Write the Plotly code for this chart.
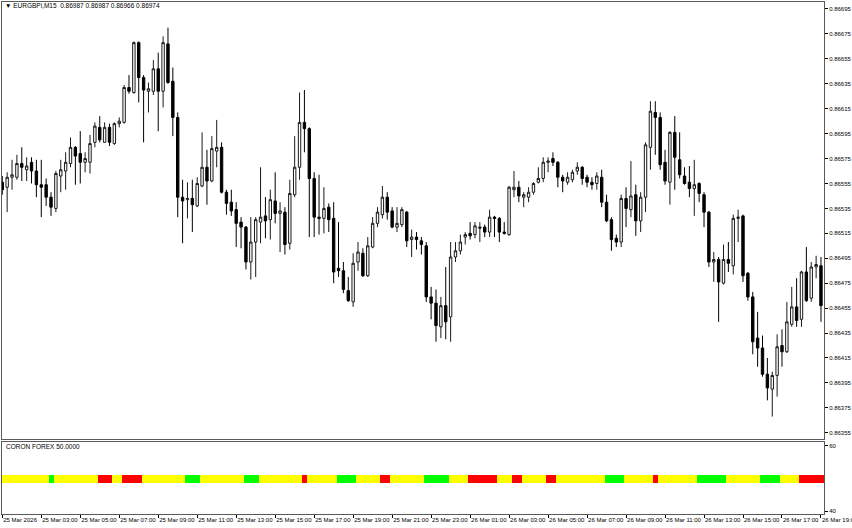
import plotly.graph_objects as go

# ---------------- data (EURGBPi, M15, 25 Mar 2026 01:00 -> 26 Mar 2026 19:00) ----------------
opens = [
    0.86556, 0.86552, 0.86560, 0.86560, 0.86571, 0.86566, 0.86572, 0.86565, 0.86554, 0.86554,
    0.86544, 0.86535, 0.86561, 0.86565, 0.86571, 0.86584, 0.86579, 0.86572, 0.86572, 0.86588,
    0.86600, 0.86588, 0.86600, 0.86587, 0.86603, 0.86604, 0.86632, 0.86628, 0.86668, 0.86640,
    0.86629, 0.86629, 0.86647, 0.86629, 0.86667, 0.86637, 0.86608, 0.86544, 0.86542, 0.86543,
    0.86537, 0.86553, 0.86568, 0.86557, 0.86581, 0.86584, 0.86548, 0.86540, 0.86534, 0.86524,
    0.86520, 0.86492, 0.86508, 0.86524, 0.86529, 0.86526, 0.86541, 0.86531, 0.86532, 0.86507,
    0.86546, 0.86568, 0.86604, 0.86599, 0.86559, 0.86528, 0.86527, 0.86536, 0.86527, 0.86487,
    0.86485, 0.86469, 0.86460, 0.86492, 0.86499, 0.86481, 0.86504, 0.86523, 0.86530, 0.86544,
    0.86533, 0.86520, 0.86522, 0.86532, 0.86510, 0.86512, 0.86509, 0.86505, 0.86464, 0.86459,
    0.86440, 0.86457, 0.86448, 0.86496, 0.86501, 0.86512, 0.86515, 0.86514, 0.86519, 0.86520,
    0.86516, 0.86528, 0.86527, 0.86516, 0.86514, 0.86550, 0.86552, 0.86544, 0.86544, 0.86548,
    0.86556, 0.86559, 0.86572, 0.86575, 0.86572, 0.86560, 0.86556, 0.86558, 0.86565, 0.86568,
    0.86560, 0.86556, 0.86555, 0.86560, 0.86540, 0.86526, 0.86511, 0.86508, 0.86543, 0.86534,
    0.86546, 0.86525, 0.86544, 0.86584, 0.86612, 0.86608, 0.86572, 0.86556, 0.86596, 0.86574,
    0.86561, 0.86556, 0.86551, 0.86555, 0.86546, 0.86532, 0.86492, 0.86494, 0.86475, 0.86494,
    0.86489, 0.86527, 0.86529, 0.86483, 0.86464, 0.86431, 0.86423, 0.86402, 0.86390, 0.86401,
    0.86425, 0.86420, 0.86442, 0.86456, 0.86446, 0.86484, 0.86463, 0.86488, 0.86489,
]
highs = [
    0.86561, 0.86564, 0.86574, 0.86578, 0.86584, 0.86576, 0.86576, 0.86574, 0.86574, 0.86559,
    0.86548, 0.86565, 0.86574, 0.86580, 0.86592, 0.86585, 0.86597, 0.86580, 0.86594, 0.86604,
    0.86609, 0.86604, 0.86603, 0.86604, 0.86608, 0.86634, 0.86642, 0.86669, 0.86669, 0.86642,
    0.86636, 0.86654, 0.86660, 0.86673, 0.86680, 0.86648, 0.86612, 0.86558, 0.86556, 0.86558,
    0.86560, 0.86596, 0.86582, 0.86593, 0.86606, 0.86588, 0.86550, 0.86550, 0.86540, 0.86528,
    0.86521, 0.86528, 0.86528, 0.86568, 0.86544, 0.86550, 0.86564, 0.86540, 0.86536, 0.86558,
    0.86593, 0.86628, 0.86630, 0.86600, 0.86564, 0.86562, 0.86552, 0.86539, 0.86540, 0.86524,
    0.86492, 0.86480, 0.86499, 0.86508, 0.86503, 0.86512, 0.86528, 0.86536, 0.86553, 0.86548,
    0.86536, 0.86536, 0.86536, 0.86533, 0.86518, 0.86516, 0.86512, 0.86508, 0.86472, 0.86470,
    0.86464, 0.86488, 0.86508, 0.86508, 0.86514, 0.86516, 0.86524, 0.86524, 0.86524, 0.86522,
    0.86534, 0.86529, 0.86528, 0.86524, 0.86553, 0.86565, 0.86557, 0.86548, 0.86552, 0.86556,
    0.86568, 0.86576, 0.86576, 0.86580, 0.86573, 0.86562, 0.86564, 0.86566, 0.86572, 0.86569,
    0.86562, 0.86560, 0.86564, 0.86566, 0.86546, 0.86528, 0.86514, 0.86546, 0.86552, 0.86573,
    0.86554, 0.86548, 0.86588, 0.86621, 0.86621, 0.86612, 0.86582, 0.86597, 0.86609, 0.86596,
    0.86568, 0.86569, 0.86574, 0.86556, 0.86548, 0.86533, 0.86500, 0.86496, 0.86506, 0.86508,
    0.86530, 0.86534, 0.86530, 0.86484, 0.86468, 0.86452, 0.86433, 0.86415, 0.86404, 0.86434,
    0.86438, 0.86460, 0.86472, 0.86479, 0.86485, 0.86504, 0.86492, 0.86497, 0.86496,
]
lows = [
    0.86546, 0.86532, 0.86550, 0.86558, 0.86557, 0.86557, 0.86555, 0.86544, 0.86528, 0.86537,
    0.86529, 0.86532, 0.86548, 0.86550, 0.86568, 0.86554, 0.86555, 0.86564, 0.86563, 0.86584,
    0.86588, 0.86588, 0.86585, 0.86586, 0.86600, 0.86603, 0.86627, 0.86627, 0.86620, 0.86588,
    0.86612, 0.86626, 0.86597, 0.86616, 0.86635, 0.86593, 0.86528, 0.86507, 0.86527, 0.86516,
    0.86536, 0.86552, 0.86538, 0.86556, 0.86568, 0.86547, 0.86530, 0.86529, 0.86504, 0.86503,
    0.86486, 0.86478, 0.86480, 0.86507, 0.86511, 0.86510, 0.86523, 0.86500, 0.86498, 0.86502,
    0.86544, 0.86558, 0.86580, 0.86512, 0.86512, 0.86514, 0.86515, 0.86516, 0.86475, 0.86480,
    0.86467, 0.86460, 0.86456, 0.86485, 0.86480, 0.86480, 0.86503, 0.86520, 0.86527, 0.86526,
    0.86519, 0.86516, 0.86520, 0.86504, 0.86496, 0.86502, 0.86498, 0.86460, 0.86446, 0.86428,
    0.86431, 0.86430, 0.86428, 0.86492, 0.86498, 0.86506, 0.86510, 0.86511, 0.86508, 0.86512,
    0.86512, 0.86512, 0.86508, 0.86514, 0.86513, 0.86544, 0.86540, 0.86536, 0.86540, 0.86546,
    0.86555, 0.86556, 0.86564, 0.86569, 0.86552, 0.86548, 0.86554, 0.86556, 0.86562, 0.86554,
    0.86552, 0.86550, 0.86550, 0.86536, 0.86524, 0.86501, 0.86504, 0.86504, 0.86520, 0.86528,
    0.86513, 0.86516, 0.86532, 0.86566, 0.86578, 0.86566, 0.86554, 0.86538, 0.86550, 0.86559,
    0.86554, 0.86544, 0.86529, 0.86540, 0.86520, 0.86488, 0.86476, 0.86444, 0.86474, 0.86484,
    0.86482, 0.86508, 0.86476, 0.86461, 0.86418, 0.86408, 0.86400, 0.86381, 0.86368, 0.86384,
    0.86408, 0.86419, 0.86440, 0.86440, 0.86440, 0.86460, 0.86460, 0.86479, 0.86444,
]
closes = [
    0.86550, 0.86560, 0.86562, 0.86571, 0.86568, 0.86569, 0.86565, 0.86554, 0.86552, 0.86544,
    0.86536, 0.86563, 0.86566, 0.86572, 0.86584, 0.86577, 0.86572, 0.86575, 0.86587, 0.86601,
    0.86590, 0.86600, 0.86588, 0.86603, 0.86605, 0.86632, 0.86629, 0.86668, 0.86640, 0.86630,
    0.86631, 0.86647, 0.86629, 0.86668, 0.86636, 0.86608, 0.86544, 0.86541, 0.86543, 0.86538,
    0.86555, 0.86568, 0.86557, 0.86583, 0.86584, 0.86548, 0.86539, 0.86533, 0.86523, 0.86520,
    0.86492, 0.86508, 0.86526, 0.86528, 0.86525, 0.86542, 0.86531, 0.86533, 0.86506, 0.86547,
    0.86568, 0.86604, 0.86599, 0.86559, 0.86528, 0.86527, 0.86535, 0.86526, 0.86484, 0.86485,
    0.86470, 0.86461, 0.86491, 0.86500, 0.86481, 0.86505, 0.86523, 0.86532, 0.86544, 0.86532,
    0.86520, 0.86523, 0.86534, 0.86509, 0.86512, 0.86510, 0.86506, 0.86464, 0.86459, 0.86441,
    0.86457, 0.86444, 0.86496, 0.86501, 0.86508, 0.86514, 0.86513, 0.86521, 0.86520, 0.86516,
    0.86528, 0.86527, 0.86516, 0.86515, 0.86552, 0.86552, 0.86545, 0.86546, 0.86548, 0.86555,
    0.86559, 0.86572, 0.86573, 0.86572, 0.86560, 0.86557, 0.86560, 0.86564, 0.86568, 0.86559,
    0.86556, 0.86554, 0.86561, 0.86540, 0.86525, 0.86510, 0.86508, 0.86543, 0.86535, 0.86545,
    0.86525, 0.86544, 0.86586, 0.86613, 0.86608, 0.86570, 0.86557, 0.86596, 0.86576, 0.86562,
    0.86555, 0.86551, 0.86554, 0.86547, 0.86532, 0.86492, 0.86494, 0.86476, 0.86494, 0.86491,
    0.86527, 0.86528, 0.86481, 0.86464, 0.86428, 0.86423, 0.86402, 0.86391, 0.86401, 0.86424,
    0.86420, 0.86444, 0.86456, 0.86445, 0.86484, 0.86461, 0.86488, 0.86490, 0.86457,
]

# CORON FOREX indicator: constant level 50 coloured by signal state per bar
coron_values = [50.0] * len(closes)
coron_state = (
    "YYYYYYYYYY" "G" "YYYYYYYYY" "RRR" "YY" "RRRR" "YYYYYYYYY" "GGG" "YYYYYYYYY" "GGG"
    "YYYYYYYYY" "R" "YYYYYY" "GGGG" "YYYYY" "RR" "YYYYYYY" "GGGGG" "YYYY" "RRRRRR"
    "YYY" "RR" "YYYYY" "RR" "YYYYYYYYYY" "GGGG" "YYYYYY" "R" "YYYYYYYY" "GGGGGG"
    "YYYYYYY" "GGGG" "YYYY" "RRRRR"
)
state_colour = {"Y": "#FFFF00", "G": "#00FF00", "R": "#FF0000"}

x_tick_labels = [
    "25 Mar 2026", "25 Mar 03:00", "25 Mar 05:00", "25 Mar 07:00", "25 Mar 09:00",
    "25 Mar 11:00", "25 Mar 13:00", "25 Mar 15:00", "25 Mar 17:00", "25 Mar 19:00",
    "25 Mar 21:00", "25 Mar 23:00", "26 Mar 01:00", "26 Mar 03:00", "26 Mar 05:00",
    "26 Mar 07:00", "26 Mar 09:00", "26 Mar 11:00", "26 Mar 13:00", "26 Mar 15:00",
    "26 Mar 17:00", "26 Mar 19:00",
]
bars_per_label = 8  # M15 bars per 2 hours
price_ticks = [0.86355, 0.86375, 0.86395, 0.86415, 0.86435, 0.86455, 0.86475, 0.86495, 0.86515,
               0.86535, 0.86555, 0.86575, 0.86595, 0.86615, 0.86635, 0.86655, 0.86675, 0.86695]

# ---------------- figure ----------------
n = len(closes)
bar_index = list(range(n))
W, H = 852, 528
FONT = "Liberation Sans"
frame = "#5a5a5a"

fig = go.Figure()
fig.add_trace(go.Candlestick(
    x=bar_index, open=opens, high=highs, low=lows, close=closes,
    xaxis="x", yaxis="y",
    increasing=dict(line=dict(color="#1a1a1a", width=1), fillcolor="#ffffff"),
    decreasing=dict(line=dict(color="#000000", width=1), fillcolor="#000000"),
    whiskerwidth=0, showlegend=False, hoverinfo="skip",
))
fig.add_trace(go.Bar(
    x=bar_index, y=[2.4] * n, base=[v - 1.2 for v in coron_values],
    marker=dict(color=[state_colour[s] for s in coron_state], line=dict(width=0)),
    width=1.04, xaxis="x2", yaxis="y2", showlegend=False, hoverinfo="skip",
))

xdom = [1.5 / W, 824 / W]
xrange = [-0.16, n - 1 + 0.62]
common_x = dict(domain=xdom, range=xrange, showgrid=False, zeroline=False,
                showline=True, mirror=True, linecolor=frame, linewidth=1)

fig.update_layout(
    width=W, height=H, margin=dict(l=0, r=0, t=0, b=0, autoexpand=False),
    paper_bgcolor="white", plot_bgcolor="white",
    font=dict(family=FONT, size=6, color="#000000"),
    boxgap=0.3,
    xaxis=dict(**common_x, anchor="y", showticklabels=False, ticks="",
               rangeslider=dict(visible=False)),
    yaxis=dict(domain=[1 - 439 / H, 1 - 1.5 / H], range=[0.86350, 0.86701], side="right",
               tickvals=price_ticks, ticktext=[f"{v:.5f}" for v in price_ticks],
               ticks="outside", ticklen=3, tickcolor="#000", showgrid=False, zeroline=False,
               showline=True, mirror=True, linecolor=frame, linewidth=1,
               tickfont=dict(size=6), anchor="x", automargin=False,
               ticklabeloverflow="allow"),
    xaxis2=dict(**common_x, anchor="y2",
                tickvals=bar_index[::bars_per_label], ticktext=x_tick_labels,
                ticks="outside", ticklen=3, tickcolor="#000", tickangle=0,
                ticklabelposition="outside right", ticklabeloverflow="allow",
                tickfont=dict(size=6), automargin=False),
    yaxis2=dict(domain=[1 - 514 / H, 1 - 441.5 / H], range=[39.1, 61.2], side="right",
                tickvals=[40, 60], ticktext=["40", "60"], ticks="outside", ticklen=3,
                tickcolor="#000", showgrid=False, zeroline=False,
                showline=True, mirror=True, linecolor=frame, linewidth=1,
                tickfont=dict(size=6), anchor="x2", automargin=False),
    bargap=0,
)

fig.add_annotation(xref="paper", yref="paper", x=3 / W, y=1 - 6 / H, xanchor="left",
                   yanchor="middle", showarrow=False,
                   text="▼ EURGBPi,M15  0.86987 0.86987 0.86966 0.86974",
                   font=dict(family=FONT, size=6.5, color="#000"))
fig.add_annotation(xref="paper", yref="paper", x=4 / W, y=1 - 446 / H, xanchor="left",
                   yanchor="middle", showarrow=False, text="CORON FOREX 50.0000",
                   font=dict(family=FONT, size=6.5, color="#000"))

fig.write_html(
    "out.html",
    config={"displayModeBar": False},
    post_script="document.body.style.margin='0';document.body.style.padding='0';"
                "document.body.style.overflow='hidden';",
)
